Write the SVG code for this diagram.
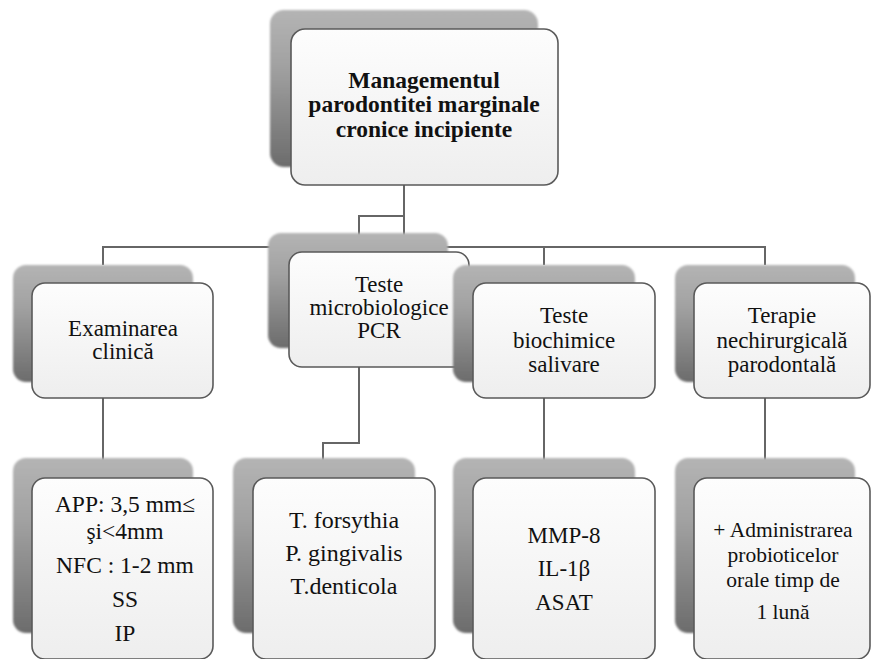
<svg xmlns="http://www.w3.org/2000/svg" width="871" height="659" viewBox="0 0 871 659">
<defs>
<linearGradient id="backG" x1="0" y1="0" x2="0" y2="1">
<stop offset="0" stop-color="#b4b4b4"/>
<stop offset="0.35" stop-color="#a2a2a2"/>
<stop offset="1" stop-color="#6c6c6c"/>
</linearGradient>
<linearGradient id="frontG" x1="0" y1="0" x2="0" y2="1">
<stop offset="0" stop-color="#fdfdfd"/>
<stop offset="1" stop-color="#eeeeee"/>
</linearGradient>
<filter id="soft" x="-10%" y="-10%" width="120%" height="120%">
<feGaussianBlur stdDeviation="1.2"/>
</filter>
</defs>
<style>
.back{fill:url(#backG);filter:url(#soft)}
.front{fill:url(#frontG);stroke:#5a5a5a;stroke-width:1.6}
.conn{fill:none;stroke:#666;stroke-width:2}
text{font-family:'Liberation Serif','DejaVu Serif',serif;fill:#111;text-anchor:middle}
.t1{font-size:23.5px;font-weight:bold}
.t2{font-size:23px}
.t3{font-size:23.5px}
.t4{font-size:24px}
.t5{font-size:21.5px}
</style>
<rect width="871" height="659" fill="#ffffff"/>
<g id="connectors">
<path class="conn" d="M404 185 V247"/>
<path class="conn" d="M404 216 H359 V235"/>
<path class="conn" d="M103 265 V247 H765 V265"/>
<path class="conn" d="M544 247 V265"/>
<path class="conn" d="M103 398 V460"/>
<path class="conn" d="M359 367 V443 H323 V460"/>
<path class="conn" d="M544 398 V460"/>
<path class="conn" d="M765 398 V460"/>
</g>
<g id="root">
<rect class="back" x="270" y="10" width="268" height="157" rx="14"/>
<rect class="front" x="291" y="29" width="267" height="156" rx="14"/>
<text class="t1" x="424" y="88">Managementul</text>
<text class="t1" x="424" y="112">parodontitei marginale</text>
<text class="t1" x="424" y="137">cronice incipiente</text>
</g>
<g id="examinarea">
<rect class="back" x="13" y="265" width="180" height="117" rx="13"/>
<rect class="front" x="32" y="283" width="181" height="115" rx="13"/>
<text class="t2" x="123" y="336">Examinarea</text>
<text class="t2" x="123" y="359">clinică</text>
</g>
<g id="pcr">
<rect class="back" x="268" y="233" width="180" height="115" rx="13"/>
<rect class="front" x="289" y="252" width="180" height="115" rx="13"/>
<text class="t2" x="379" y="292">Teste</text>
<text class="t2" x="379" y="315">microbiologice</text>
<text class="t2" x="379" y="338">PCR</text>
</g>
<g id="biochimice">
<rect class="back" x="453" y="265" width="182" height="117" rx="13"/>
<rect class="front" x="473" y="283" width="182" height="115" rx="13"/>
<text class="t2" x="564" y="323">Teste</text>
<text class="t2" x="564" y="348">biochimice</text>
<text class="t2" x="564" y="372">salivare</text>
</g>
<g id="terapie">
<rect class="back" x="675" y="265" width="180" height="117" rx="13"/>
<rect class="front" x="694" y="283" width="176" height="115" rx="13"/>
<text class="t2" x="782" y="323">Terapie</text>
<text class="t2" x="782" y="348">nechirurgicală</text>
<text class="t2" x="782" y="372">parodontală</text>
</g>
<g id="clinic-params">
<rect class="back" x="13" y="458" width="180" height="175" rx="13"/>
<rect class="front" x="32" y="478" width="181" height="181" rx="13"/>
<text class="t3" x="125" y="512">APP: 3,5 mm≤</text>
<text class="t3" x="125" y="539">şi&lt;4mm</text>
<text class="t3" x="125" y="573">NFC : 1-2 mm</text>
<text class="t3" x="125" y="607">SS</text>
<text class="t3" x="125" y="641">IP</text>
</g>
<g id="bacteria">
<rect class="back" x="233" y="458" width="182" height="175" rx="13"/>
<rect class="front" x="253" y="478" width="182" height="181" rx="13"/>
<text class="t4" x="344" y="528">T. forsythia</text>
<text class="t4" x="344" y="561">P. gingivalis</text>
<text class="t4" x="344" y="594">T.denticola</text>
</g>
<g id="markers">
<rect class="back" x="453" y="458" width="182" height="175" rx="13"/>
<rect class="front" x="473" y="478" width="182" height="181" rx="13"/>
<text class="t2" x="564" y="543">MMP-8</text>
<text class="t2" x="564" y="576">IL-1β</text>
<text class="t2" x="564" y="610">ASAT</text>
</g>
<g id="probiotics">
<rect class="back" x="675" y="458" width="180" height="175" rx="13"/>
<rect class="front" x="694" y="478" width="176" height="181" rx="13"/>
<text class="t5" x="783" y="537">+ Administrarea</text>
<text class="t5" x="783" y="562">probioticelor</text>
<text class="t5" x="783" y="587">orale timp de</text>
<text class="t5" x="783" y="619">1 lună</text>
</g>
</svg>
